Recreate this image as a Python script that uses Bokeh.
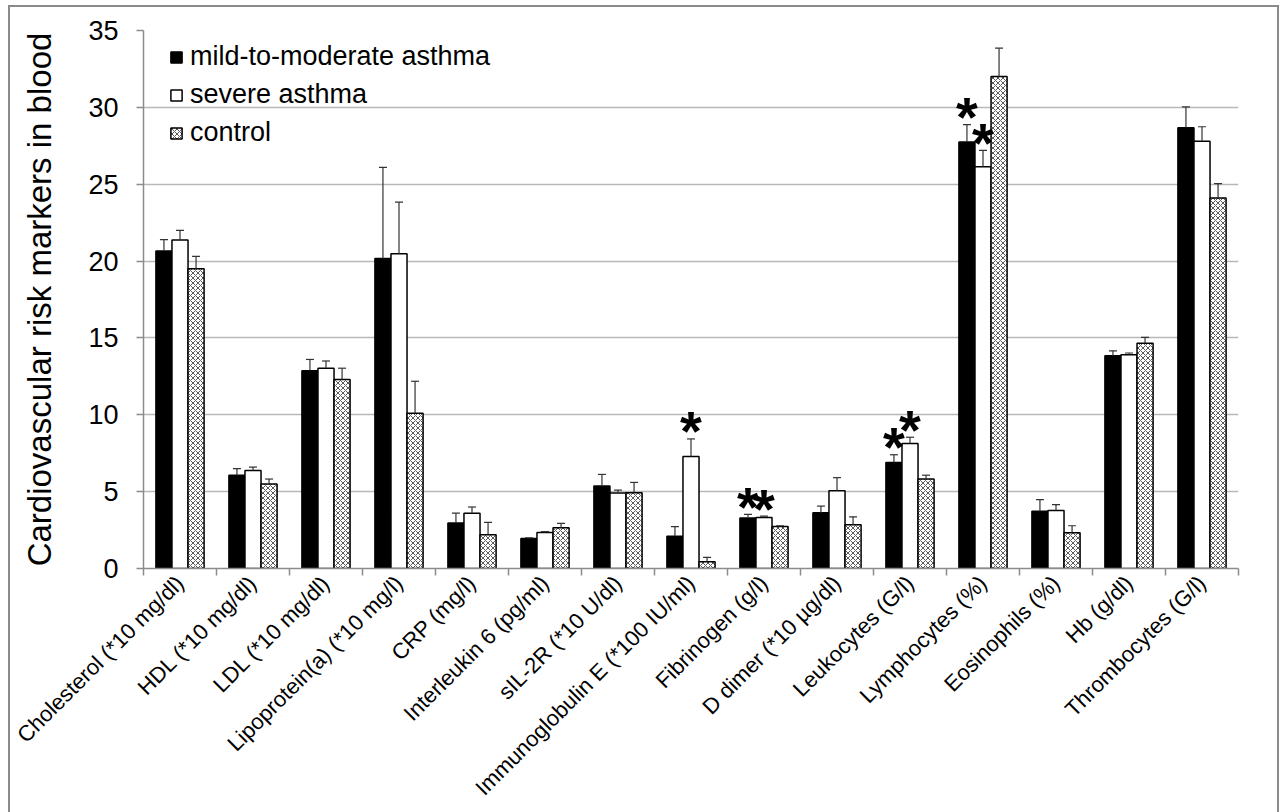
import math
import numpy as np
from bokeh.plotting import figure
from bokeh.models import (Range1d, FixedTicker, Legend, LegendItem, Whisker,
                          TeeHead, ColumnDataSource)
from bokeh.core.properties import value
from bokeh.embed import file_html
from bokeh.resources import INLINE

categories = ["Cholesterol (*10 mg/dl)", "HDL (*10 mg/dl)", "LDL (*10 mg/dl)",
              "Lipoprotein(a) (*10 mg/l)", "CRP (mg/l)", "Interleukin 6 (pg/ml)",
              "sIL-2R (*10 U/dl)", "Immunoglobulin E (*100 IU/ml)", "Fibrinogen (g/l)",
              "D dimer (*10 µg/dl)", "Leukocytes (G/l)", "Lymphocytes (%)",
              "Eosinophils (%)", "Hb (g/dl)", "Thrombocytes (G/l)"]

mild = [20.65, 6.06, 12.86, 20.16, 2.96, 1.95, 5.37, 2.09, 3.28, 3.62, 6.9, 27.74, 3.72, 13.84, 28.67]
mild_err = [0.75, 0.44, 0.74, 5.94, 0.64, 0.05, 0.75, 0.63, 0.24, 0.44, 0.5, 1.14, 0.76, 0.32, 1.36]

severe = [21.37, 6.38, 13.03, 20.48, 3.6, 2.35, 4.91, 7.28, 3.32, 5.05, 8.14, 26.13, 3.78, 13.9, 27.79]
severe_err = [0.63, 0.22, 0.47, 3.36, 0.4, 0.05, 0.19, 1.15, 0.09, 0.86, 0.4, 1.07, 0.37, 0.12, 0.95]

control = [19.5, 5.5, 12.29, 10.1, 2.2, 2.65, 4.93, 0.44, 2.74, 2.85, 5.83, 32.0, 2.33, 14.65, 24.1]
control_err = [0.8, 0.32, 0.74, 2.08, 0.8, 0.28, 0.67, 0.28, 0.04, 0.51, 0.24, 1.85, 0.45, 0.38, 0.94]

series_names = ["mild-to-moderate asthma", "severe asthma", "control"]

# significance markers: (category index, series index)
star_cat = [7, 8, 8, 10, 10, 11, 11]
star_series = [1, 0, 1, 0, 1, 0, 1]

y_ticks = [0, 5, 10, 15, 20, 25, 30, 35]

FONT = "Liberation Sans"
AXIS_GRAY = "#8c8c8c"
GRID_GRAY = "#b8b8b8"
FRAME_GRAY = "#8a8a8a"

n = len(categories)
centers = np.arange(n) + 0.5
bar_w = 0.22
offsets = [-bar_w, 0.0, bar_w]

p = figure(width=1280, height=812, x_range=Range1d(0, n), y_range=Range1d(0, 35),
           output_backend="svg", toolbar_location=None,
           min_border_left=143, min_border_right=42, min_border_top=30,
           min_border_bottom=244)
p.outline_line_color = None
p.background_fill_color = "white"
p.border_fill_color = None
line = f"linear-gradient({FRAME_GRAY}, {FRAME_GRAY})"
p.styles = {
    "background-color": "white",
    "background-image": f"{line}, {line}, {line}",
    "background-repeat": "no-repeat",
    "background-position": "8px 5px, 8px 5px, 1277px 5px",
    "background-size": "2px 100%, 1271px 2px, 2px 100%",
}

values = [mild, severe, control]
errors = [mild_err, severe_err, control_err]
renderers = []
for k in range(3):
    vals = np.array(values[k])
    errs = np.array(errors[k])
    src = ColumnDataSource(dict(x=centers + offsets[k], top=vals,
                                upper=vals + errs, lower=vals))
    if k == 0:
        r = p.vbar(x="x", top="top", bottom=0, width=bar_w, source=src,
                   fill_color="black", line_color="black", line_width=1.5)
    elif k == 1:
        r = p.vbar(x="x", top="top", bottom=0, width=bar_w, source=src,
                   fill_color="white", line_color="black", line_width=1.5)
    else:
        r = p.vbar(x="x", top="top", bottom=0, width=bar_w, source=src,
                   fill_color="white", line_color="black", line_width=1.5,
                   hatch_pattern="diagonal_cross", hatch_scale=5,
                   hatch_color="#5a5a5a", hatch_weight=1.0)
    renderers.append(r)
    w = Whisker(source=src, base="x", upper="upper", lower="lower",
                dimension="height", line_color="#333333", line_width=1.2,
                upper_head=TeeHead(size=8, line_color="#333333", line_width=1.2),
                lower_head=None)
    w.level = "overlay"
    p.add_layout(w)

# stars
sx, sy = [], []
for c, s in zip(star_cat, star_series):
    sx.append(centers[c] + offsets[s])
    sy.append(values[s][c] + errors[s][c])
p.text(x=sx, y=sy, text=["*"] * len(sx), text_font=value(FONT),
       text_font_style="bold", text_font_size="56px", text_align="center",
       text_baseline="alphabetic", y_offset=-8, text_color="black")

# grid
p.xgrid.visible = False
p.ygrid.grid_line_color = GRID_GRAY
p.ygrid.grid_line_width = 1.5
p.ygrid.ticker = FixedTicker(ticks=y_ticks)

# y axis
ya = p.yaxis[0]
ya.ticker = FixedTicker(ticks=y_ticks)
ya.axis_line_color = AXIS_GRAY
ya.axis_line_width = 1.5
ya.major_tick_line_color = AXIS_GRAY
ya.major_tick_line_width = 1.5
ya.major_tick_out = 7
ya.major_tick_in = 0
ya.minor_tick_line_color = None
ya.major_label_text_font = FONT
ya.major_label_text_font_size = "27px"
ya.major_label_text_color = "black"
ya.major_label_standoff = 18
ya.axis_label = "Cardiovascular risk markers in blood"
ya.axis_label_text_font = FONT
ya.axis_label_text_font_size = "33px"
ya.axis_label_text_font_style = "normal"
ya.axis_label_text_color = "black"
ya.axis_label_standoff = 27

# x axis: labels at category centres, tick marks at category boundaries
xa = p.xaxis[0]
xa.ticker = FixedTicker(ticks=[float(c) for c in centers],
                        minor_ticks=[float(i) for i in range(n + 1)])
xa.major_label_overrides = {float(c): name for c, name in zip(centers, categories)}
xa.axis_line_color = AXIS_GRAY
xa.axis_line_width = 1.5
xa.major_tick_line_color = None
xa.major_tick_out = 0
xa.major_tick_in = 0
xa.minor_tick_line_color = AXIS_GRAY
xa.minor_tick_line_width = 1.5
xa.minor_tick_out = 7
xa.minor_tick_in = 0
xa.major_label_orientation = math.pi / 4
xa.major_label_text_font = FONT
xa.major_label_text_font_size = "22px"
xa.major_label_text_color = "black"
xa.major_label_standoff = 4

# legend
items = [LegendItem(label=series_names[k], renderers=[renderers[k]]) for k in range(3)]
legend = Legend(items=items, location=(26, 420))
legend.label_text_font = FONT
legend.label_text_font_size = "27px"
legend.label_text_color = "black"
legend.glyph_width = 14
legend.glyph_height = 14
legend.label_standoff = 7
legend.spacing = 7
legend.padding = 0
legend.margin = 0
legend.border_line_color = None
legend.background_fill_alpha = 0
p.add_layout(legend)

open("out.html", "w").write(file_html(p, INLINE))
